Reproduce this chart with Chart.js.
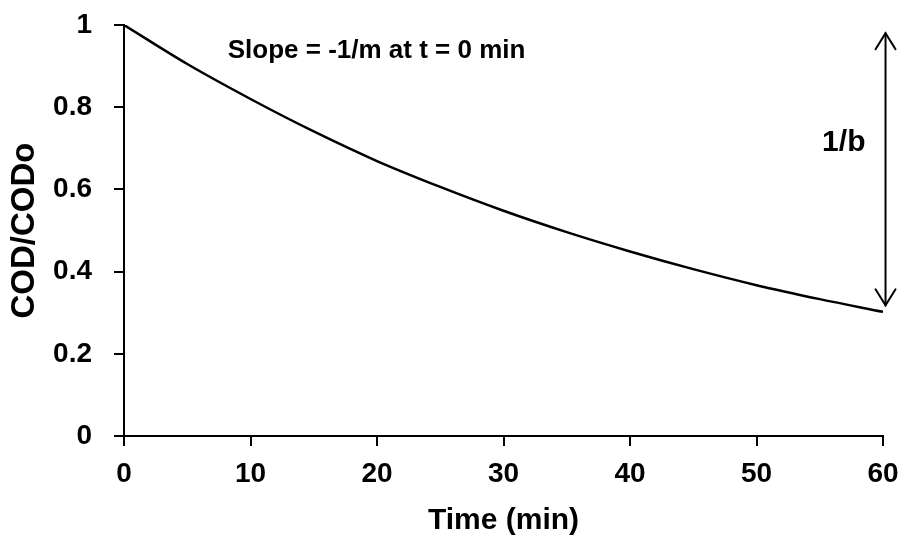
<!DOCTYPE html>
<html>
<head>
<meta charset="utf-8">
<script src="https://cdn.jsdelivr.net/npm/chart.js@4"></script>
<style>
  html, body { margin: 0; padding: 0; background: #fff; }
  #wrap { width: 905px; height: 535px; }
</style>
</head>
<body>
<div id="wrap"><canvas id="c" width="905" height="535"></canvas></div>
<script>
// ---- data ----
const timeMin = [0, 5, 10, 15, 20, 25, 30, 35, 40, 45, 50, 55, 60];
const codRatio = [1.0, 0.905, 0.82, 0.741, 0.669, 0.606, 0.548, 0.496, 0.449, 0.406, 0.367, 0.333, 0.302];
const xTickValues = [0, 10, 20, 30, 40, 50, 60];
const xTickLabels = ['0', '10', '20', '30', '40', '50', '60'];
const yTickValues = [0, 0.2, 0.4, 0.6, 0.8, 1];
const yTickLabels = ['0', '0.2', '0.4', '0.6', '0.8', '1'];
const xTitle = 'Time (min)';
const yTitle = 'COD/CODo';
const slopeNote = 'Slope = -1/m at t = 0 min';
const slopeNoteAt = [8.2, 0.937];
const arrowLabel = '1/b';
const arrowLabelAt = [56.9, 0.713];
const arrowX = [60.2];
const arrowRange = [0.98, 0.318];

const FONT = '"Liberation Sans", Arial, sans-serif';

const annotPlugin = {
  id: 'annot',
  afterDatasetsDraw(chart) {
    const { ctx, scales: { x, y } } = chart;
    ctx.save();
    const ax = x.getPixelForValue(arrowX[0]);
    const yTop = y.getPixelForValue(arrowRange[0]);
    const yBot = y.getPixelForValue(arrowRange[1]);
    ctx.strokeStyle = '#000';
    ctx.lineWidth = 2;
    ctx.lineCap = 'round';
    ctx.beginPath();
    ctx.moveTo(ax, yTop);
    ctx.lineTo(ax, yBot);
    ctx.stroke();
    ctx.beginPath();
    ctx.moveTo(ax - 10, yTop + 16);
    ctx.lineTo(ax, yTop);
    ctx.lineTo(ax + 10, yTop + 16);
    ctx.stroke();
    ctx.beginPath();
    ctx.moveTo(ax - 10, yBot - 16);
    ctx.lineTo(ax, yBot);
    ctx.lineTo(ax + 10, yBot - 16);
    ctx.stroke();
    ctx.fillStyle = '#000';
    ctx.font = 'bold 26px ' + FONT;
    ctx.textAlign = 'left';
    ctx.textBaseline = 'middle';
    ctx.fillText(slopeNote, x.getPixelForValue(slopeNoteAt[0]), y.getPixelForValue(slopeNoteAt[1]));
    ctx.font = 'bold 30px ' + FONT;
    ctx.textAlign = 'center';
    ctx.fillText(arrowLabel, x.getPixelForValue(arrowLabelAt[0]), y.getPixelForValue(arrowLabelAt[1]));
    ctx.restore();
  }
};

new Chart(document.getElementById('c'), {
  type: 'line',
  data: {
    datasets: [{
      data: timeMin.map((t, i) => ({ x: t, y: codRatio[i] })),
      borderColor: '#000',
      borderWidth: 2.5,
      pointRadius: 0,
      fill: false,
      cubicInterpolationMode: 'monotone'
    }]
  },
  options: {
    responsive: false,
    animation: false,
    events: [],
    layout: { padding: 0 },
    plugins: { legend: { display: false }, tooltip: { enabled: false } },
    scales: {
      x: {
        type: 'linear',
        min: 0, max: 60,
        afterFit(scale) { scale.height = 99; scale.paddingRight = 22; scale.paddingLeft = 0; },
        afterBuildTicks(scale) { scale.ticks = xTickValues.map(v => ({ value: v })); },
        border: { display: true, color: '#000', width: 2 },
        grid: { display: true, drawOnChartArea: false, drawTicks: true, tickLength: 10, color: '#000', lineWidth: 2 },
        ticks: {
          color: '#000',
          font: { family: FONT, size: 28, weight: 'bold' },
          padding: 11,
          maxRotation: 0,
          callback: (v) => xTickLabels[xTickValues.indexOf(v)]
        },
        title: {
          display: true, text: xTitle, color: '#000',
          font: { family: FONT, size: 30, weight: 'bold' },
          padding: { top: 0, bottom: -4 }
        }
      },
      y: {
        type: 'linear',
        min: 0, max: 1,
        afterFit(scale) { scale.width = 124; scale.paddingTop = 25; scale.paddingBottom = 0; },
        afterBuildTicks(scale) { scale.ticks = yTickValues.map(v => ({ value: v })); },
        border: { display: true, color: '#000', width: 2 },
        grid: { display: true, drawOnChartArea: false, drawTicks: true, tickLength: 10, color: '#000', lineWidth: 2 },
        ticks: {
          color: '#000',
          font: { family: FONT, size: 28, weight: 'bold' },
          padding: 22,
          callback: (v) => yTickLabels[yTickValues.indexOf(v)]
        },
        title: {
          display: true, text: yTitle, color: '#000',
          font: { family: FONT, size: 33, weight: 'bold' },
          padding: { top: 5, bottom: 0 }
        }
      }
    }
  },
  plugins: [annotPlugin]
});
</script>
</body>
</html>
